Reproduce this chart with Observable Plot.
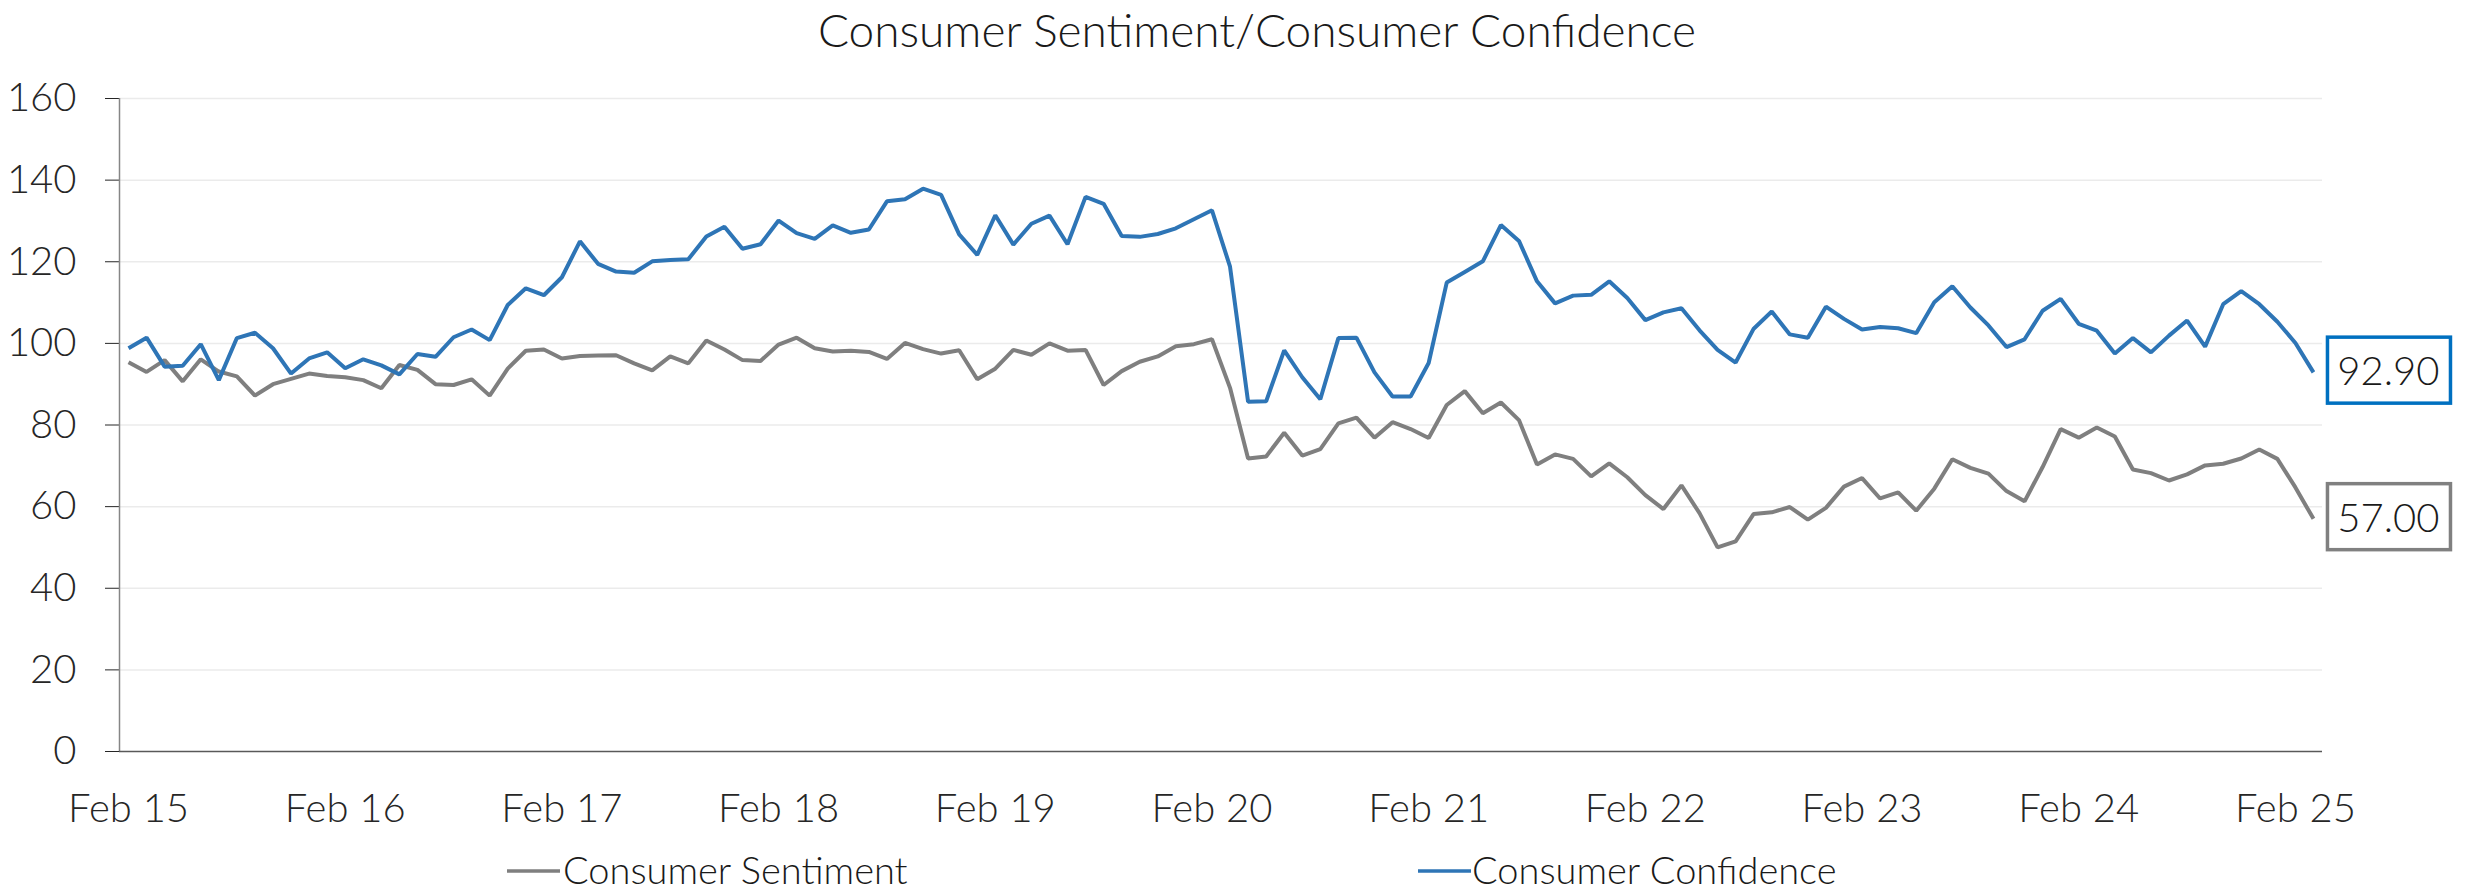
<!DOCTYPE html>
<html>
<head>
<meta charset="utf-8">
<script src="https://cdn.jsdelivr.net/npm/d3@7"></script>
<script src="https://cdn.jsdelivr.net/npm/@observablehq/plot@0.6"></script>
<style>
  html, body { margin: 0; padding: 0; background: #fff; }
  #chart { width: 2471px; height: 893px; overflow: hidden; }
  svg text { font-family: Lato, "Open Sans", sans-serif; font-weight: 300; }
</style>
</head>
<body>
<div id="chart"></div>
<script>
// Monthly values, Feb 2015 .. Mar 2025
const sentiment = [
  95.4, 93.0, 95.9, 90.7, 96.1, 93.1, 91.9, 87.2, 90.0, 91.3, 92.6,
  92.0, 91.7, 91.0, 89.0, 94.7, 93.5, 90.0, 89.8, 91.2, 87.2, 93.8, 98.2,
  98.5, 96.3, 96.9, 97.0, 97.1, 95.1, 93.4, 96.8, 95.1, 100.7, 98.5, 95.9,
  95.7, 99.7, 101.4, 98.8, 98.0, 98.2, 97.9, 96.2, 100.1, 98.6, 97.5, 98.3,
  91.2, 93.8, 98.4, 97.2, 100.0, 98.2, 98.4, 89.8, 93.2, 95.5, 96.8, 99.3,
  99.8, 101.0, 89.1, 71.8, 72.3, 78.1, 72.5, 74.1, 80.4, 81.8, 76.9, 80.7,
  79.0, 76.8, 84.9, 88.3, 82.9, 85.5, 81.2, 70.3, 72.8, 71.7, 67.4, 70.6,
  67.2, 62.8, 59.4, 65.2, 58.4, 50.0, 51.5, 58.2, 58.6, 59.9, 56.8, 59.7,
  64.9, 67.0, 62.0, 63.5, 59.0, 64.4, 71.6, 69.5, 68.1, 63.8, 61.3, 69.7,
  79.0, 76.9, 79.4, 77.2, 69.1, 68.2, 66.4, 67.9, 70.1, 70.5, 71.8, 74.0,
  71.7, 64.7, 57.0
];
const confidence = [
  98.8, 101.4, 94.3, 94.5, 99.8, 91.0, 101.3, 102.6, 98.8, 92.6, 96.3,
  97.8, 93.9, 96.1, 94.6, 92.4, 97.4, 96.7, 101.5, 103.4, 100.8, 109.4, 113.5,
  111.8, 116.2, 125.0, 119.5, 117.6, 117.3, 120.1, 120.4, 120.6, 126.2, 128.6, 123.2,
  124.3, 130.1, 127.0, 125.6, 128.9, 127.1, 127.9, 134.8, 135.3, 137.9, 136.4, 126.7,
  121.7, 131.4, 124.2, 129.3, 131.3, 124.3, 135.9, 134.2, 126.3, 126.1, 126.8, 128.2,
  130.4, 132.6, 118.8, 85.7, 85.8, 98.3, 91.7, 86.3, 101.3, 101.4, 92.9, 87.0,
  87.0, 95.2, 114.9, 117.5, 120.1, 129.0, 125.1, 115.2, 109.8, 111.7, 111.9, 115.2,
  111.1, 105.7, 107.6, 108.6, 103.2, 98.4, 95.3, 103.6, 107.8, 102.2, 101.4, 109.0,
  106.0, 103.4, 104.0, 103.7, 102.5, 110.1, 114.0, 108.8, 104.4, 99.1, 101.0, 108.0,
  110.9, 104.8, 103.1, 97.5, 101.3, 97.8, 101.9, 105.6, 99.2, 109.6, 112.8, 109.6,
  105.3, 100.1, 92.9
];
const seriesNames = ["Consumer Sentiment", "Consumer Confidence"];
const seriesColors = ["#7f7f7f", "#2e75b6"];
const boxColors = ["#808080", "#0070c0"];
const tickLabels = ["Feb 15", "Feb 16", "Feb 17", "Feb 18", "Feb 19", "Feb 20",
                    "Feb 21", "Feb 22", "Feb 23", "Feb 24", "Feb 25"];
const tickMonths = [0, 12, 24, 36, 48, 60, 72, 84, 96, 108, 120];
const yTicks = [0, 20, 40, 60, 80, 100, 120, 140, 160];
const titleText = "Consumer Sentiment/Consumer Confidence";

const rows = [];
[sentiment, confidence].forEach((arr, k) => {
  arr.forEach((v, i) => rows.push({ i, v, s: seriesNames[k] }));
});
const n = sentiment.length;
const xDomain = [-0.5, n - 0.5];
const lastRows = [sentiment, confidence].map((arr, k) => ({ i: arr.length - 1, v: arr[arr.length - 1], k }));

const svg = Plot.plot({
  width: 2471,
  height: 893,
  marginLeft: 119,
  marginRight: 149,
  marginTop: 98,
  marginBottom: 142,
  style: { fontFamily: "Lato, 'Open Sans', sans-serif", fontSize: "40px", color: "#262626", background: "#fff", fontWeight: 300 },
  x: {
    domain: xDomain,
    ticks: tickMonths,
    tickSize: 0,
    tickPadding: 42,
    tickFormat: d => tickLabels[tickMonths.indexOf(d)],
    label: null
  },
  y: {
    domain: [0, 160],
    ticks: yTicks,
    tickSize: 14,
    tickPadding: 29,
    label: null
  },
  color: { domain: seriesNames, range: seriesColors },
  marks: [
    Plot.ruleY(yTicks.filter(d => d > 0), { stroke: "#ebebeb", strokeWidth: 1.5 }),
    Plot.ruleX([xDomain[0]], { stroke: "#868686", strokeWidth: 1.5 }),
    Plot.ruleY([0], { stroke: "#595959", strokeWidth: 1.5 }),
    Plot.line(rows, { x: "i", y: "v", z: "s", stroke: "s", strokeWidth: 4, strokeLinejoin: "miter", strokeLinecap: "butt" }),
    Plot.text(lastRows, { x: "i", y: "v", text: d => d.v.toFixed(2), textAnchor: "end", dx: 126, fontSize: 40, fill: "#1a1a1a" })
  ]
});

document.getElementById("chart").appendChild(svg);
const root = d3.select(svg);

// boxes around end labels
root.selectAll('g[aria-label="text"] text').each(function (d, j) {
  const b = this.getBBox();
  const k = lastRows[j].k;
  const right = b.x + b.width + 11;
  const cy = b.y + b.height / 2;
  const g = this.parentNode;
  d3.select(g).insert("rect", () => this)
    .attr("x", right - 123).attr("y", cy - 33)
    .attr("width", 123).attr("height", 66)
    .attr("fill", "#fff")
    .attr("stroke", boxColors[k])
    .attr("stroke-width", 3.5)
    .attr("transform", this.getAttribute("transform"));
});

// title
root.append("text")
  .attr("x", 1257).attr("y", 47)
  .attr("text-anchor", "middle")
  .attr("font-size", 46)
  .attr("fill", "#1a1a1a")
  .text(titleText);

// legend
const legendPos = [{ x: 507, tx: 563 }, { x: 1418, tx: 1472 }];
seriesNames.forEach((name, k) => {
  const p = legendPos[k];
  root.append("line")
    .attr("x1", p.x).attr("x2", p.x + 53)
    .attr("y1", 871).attr("y2", 871)
    .attr("stroke", seriesColors[k]).attr("stroke-width", 3.5);
  root.append("text")
    .attr("x", p.tx).attr("y", 884)
    .attr("text-anchor", "start")
    .attr("font-size", 38)
    .attr("fill", "#1a1a1a")
    .text(name);
});
</script>
</body>
</html>
